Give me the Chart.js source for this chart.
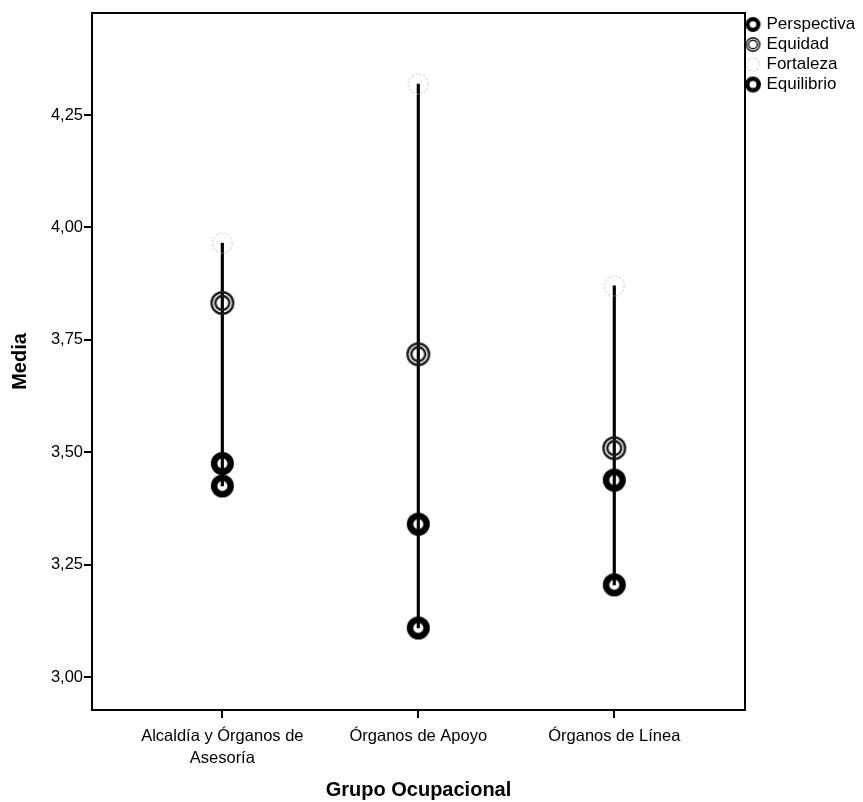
<!DOCTYPE html>
<html>
<head>
<meta charset="utf-8">
<script src="https://cdn.jsdelivr.net/npm/chart.js@4/dist/chart.umd.min.js"></script>
<style>
  html, body { margin: 0; padding: 0; background: #fff; }
  #wrap { width: 863px; height: 802px; }
</style>
</head>
<body>
<div id="wrap"><canvas id="grafico"></canvas></div>
<script>
const categorias = [["Alcaldía y Órganos de", "Asesoría"], "Órganos de Apoyo", "Órganos de Línea"];
const perspectiva = [3.475, 3.340, 3.438];
const equidad = [3.832, 3.718, 3.509];
const fortaleza = [3.965, 4.319, 3.870];
const equilibrio = [3.425, 3.109, 3.205];
const ticksY = [3.00, 3.25, 3.50, 3.75, 4.00, 4.25];

// marcadores dibujados en un canvas pequeño
function marcador(tipo, r) {
  const c = document.createElement("canvas");
  const s = Math.ceil(r * 2 + 4);
  c.width = s; c.height = s;
  const ctx = c.getContext("2d");
  const m = s / 2;
  if (tipo === "grueso") {
    ctx.strokeStyle = "#000";
    ctx.lineWidth = r * 0.56;
    ctx.beginPath(); ctx.arc(m, m, r - ctx.lineWidth / 2, 0, Math.PI * 2); ctx.stroke();
  } else if (tipo === "doble") {
    ctx.strokeStyle = "#1a1a1a";
    ctx.lineWidth = r * 0.2;
    ctx.beginPath(); ctx.arc(m, m, r - ctx.lineWidth / 2, 0, Math.PI * 2); ctx.stroke();
    ctx.beginPath(); ctx.arc(m, m, r * 0.58, 0, Math.PI * 2); ctx.stroke();
  } else {
    ctx.strokeStyle = "#d0d0d0";
    ctx.lineWidth = 1.2;
    ctx.setLineDash([2, 2]);
    ctx.beginPath(); ctx.arc(m, m, r - 1, 0, Math.PI * 2); ctx.stroke();
  }
  return c;
}

const iconosLeyenda = [marcador("grueso", 7.5), marcador("doble", 7.5), marcador("punteado", 7.5), marcador("grueso", 8)];

function serie(nombre, valores, estilo) {
  return {
    type: "scatter",
    label: nombre,
    data: valores.map((v, i) => ({ x: i, y: v })),
    pointStyle: estilo,
    pointRadius: 11,
    pointHoverRadius: 11,
    order: 1
  };
}

const rangos = categorias.map((c, i) => {
  const vals = [perspectiva[i], equidad[i], fortaleza[i], equilibrio[i]];
  return { x: i, y: [Math.min(...vals), Math.max(...vals)] };
});

// marco completo del área del gráfico
const marco = {
  id: "marco",
  afterDraw(chart) {
    const a = chart.chartArea, ctx = chart.ctx;
    ctx.save();
    ctx.strokeStyle = "#000";
    ctx.lineWidth = 2;
    ctx.strokeRect(a.left, a.top, a.right - a.left, a.bottom - a.top);
    ctx.restore();
  }
};

// ancho fijo para la leyenda de la derecha
const anchoLeyenda = {
  id: "anchoLeyenda",
  afterInit(chart) {
    const leg = chart.legend;
    const fitOrig = leg.fit.bind(leg);
    leg.fit = function () { fitOrig(); this.width = 118; };
  }
};

const fuente = "'Liberation Sans', Arial, sans-serif";

new Chart(document.getElementById("grafico"), {
  type: "scatter",
  data: {
    datasets: [
      serie("Perspectiva", perspectiva, marcador("grueso", 11.5)),
      serie("Equidad", equidad, marcador("doble", 12)),
      serie("Fortaleza", fortaleza, marcador("punteado", 11)),
      serie("Equilibrio", equilibrio, marcador("grueso", 11.5)),
      {
        type: "bar",
        label: "rango",
        data: rangos,
        backgroundColor: "#000",
        borderWidth: 0,
        barThickness: 2.5,
        order: 10
      }
    ]
  },
  options: {
    responsive: true,
    maintainAspectRatio: false,
    animation: false,
    layout: { padding: { top: 13, right: 0, left: 0, bottom: 0 } },
    plugins: {
      tooltip: { enabled: false },
      legend: {
        position: "right",
        align: "start",
        labels: {
          usePointStyle: true,
          boxWidth: 10,
          padding: 3,
          color: "#000",
          font: { family: fuente, size: 17 },
          filter: (item) => item.datasetIndex < 4,
          generateLabels(chart) {
            const items = Chart.defaults.plugins.legend.labels.generateLabels(chart);
            items.forEach((it) => { if (it.datasetIndex < 4) it.pointStyle = iconosLeyenda[it.datasetIndex]; });
            return items;
          }
        }
      }
    },
    scales: {
      x: {
        type: "linear",
        offset: false,
        min: -0.665,
        max: 2.667,
        afterBuildTicks: (s) => { s.ticks = categorias.map((c, i) => ({ value: i })); },
        afterFit: (s) => { s.height = 92; },
        grid: { offset: false, drawOnChartArea: false, drawTicks: true, tickLength: 8, color: "#000", lineWidth: 2 },
        border: { display: true, color: "#000", width: 2 },
        ticks: {
          autoSkip: false,
          maxRotation: 0,
          padding: 8,
          color: "#000",
          font: { family: fuente, size: 16.5, lineHeight: 1.3 },
          callback: (v) => categorias[v]
        },
        title: {
          display: true,
          text: "Grupo Ocupacional",
          color: "#000",
          font: { family: fuente, size: 20, weight: "bold" },
          padding: { top: 0, bottom: 0 }
        }
      },
      y: {
        min: 2.9266,
        max: 4.477,
        afterBuildTicks: (s) => { s.ticks = ticksY.map((v) => ({ value: v })); },
        afterFit: (s) => { s.width = 92; },
        grid: { drawOnChartArea: false, drawTicks: true, tickLength: 8, color: "#000", lineWidth: 2 },
        border: { display: true, color: "#000", width: 2 },
        ticks: {
          padding: 1,
          color: "#000",
          font: { family: fuente, size: 16.5 },
          callback: (v) => v.toFixed(2).replace(".", ",")
        },
        title: {
          display: true,
          text: "Media",
          color: "#000",
          font: { family: fuente, size: 20, weight: "bold" },
          padding: { top: 8, bottom: 0 }
        }
      }
    }
  },
  plugins: [marco, anchoLeyenda]
});
</script>
</body>
</html>
